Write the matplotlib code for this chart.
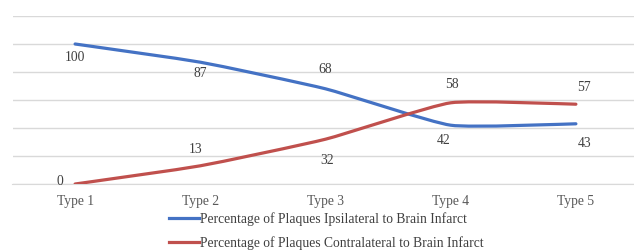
import matplotlib
matplotlib.use("Agg")
import matplotlib.pyplot as plt
from matplotlib.path import Path
from matplotlib.patches import PathPatch
from matplotlib.lines import Line2D
import numpy as np

categories = ["Type 1", "Type 2", "Type 3", "Type 4", "Type 5"]
ipsilateral = [100, 87, 68, 42, 43]
contralateral = [0, 13, 32, 58, 57]
series_names = ["Percentage of Plaques Ipsilateral to Brain Infarct",
                "Percentage of Plaques Contralateral to Brain Infarct"]
colors = ["#4472C4", "#C0504D"]

# label offsets in points (dx, dy)
ipsi_offsets = [(0, -10), (0, -8), (0, 14), (-5, -11), (6, -14)]
contra_offsets = [(-11, 2), (-3, 12), (1, -15), (1, 13), (6, 12)]

plt.rcParams['font.family'] = ['Liberation Serif', 'DejaVu Serif']
fig = plt.figure(figsize=(6.34, 2.5), dpi=100)
ax = fig.add_axes([12.5 / 634, (250 - 184) / 250, 626 / 634, (184 - 16) / 250])

x = np.arange(len(categories))


def smooth_path(xs, ys, t=0.08):
    verts = [(xs[0], ys[0])]
    codes = [Path.MOVETO]
    n = len(xs)
    for i in range(n - 1):
        x0, y0 = (xs[i - 1], ys[i - 1]) if i > 0 else (xs[i], ys[i])
        x1, y1 = xs[i], ys[i]
        x2, y2 = xs[i + 1], ys[i + 1]
        x3, y3 = (xs[i + 2], ys[i + 2]) if i + 2 < n else (xs[i + 1], ys[i + 1])
        c1 = (x1 + (x2 - x0) * t, y1 + (y2 - y0) * t)
        c2 = (x2 - (x3 - x1) * t, y2 - (y3 - y1) * t)
        verts += [c1, c2, (x2, y2)]
        codes += [Path.CURVE4] * 3
    return Path(verts, codes)


for ys, col, offs in [(ipsilateral, colors[0], ipsi_offsets),
                      (contralateral, colors[1], contra_offsets)]:
    p = smooth_path(list(x), list(ys))
    ax.add_patch(PathPatch(p, facecolor='none', edgecolor=col, lw=2.3,
                           capstyle='round', zorder=3))
    for xi, yi, (dx, dy) in zip(x, ys, offs):
        ax.annotate(str(yi), (xi, yi), xytext=(dx, dy), textcoords='offset points',
                    ha='center', va='center', fontsize=9.8, color='#404040')

ax.set_xlim(-0.5, 4.5)
ax.set_ylim(0, 120)
ax.set_yticks(np.arange(0, 121, 20))
ax.set_yticklabels([])
ax.tick_params(axis='y', length=0)
ax.yaxis.grid(True, color='#d9d9d9', lw=1)
ax.set_axisbelow(True)
ax.set_xticks(x)
ax.set_xticklabels(categories, fontsize=9.8, color='#595959')
ax.tick_params(axis='x', length=0, pad=8)
for s in ['top', 'right', 'left']:
    ax.spines[s].set_visible(False)
ax.spines['bottom'].set_color('#d9d9d9')
ax.set_facecolor('white')

handles = [Line2D([], [], color=c, lw=2.3) for c in colors]
fig.legend(handles, series_names, loc='upper center', bbox_to_anchor=(0.515, 0.178),
           ncol=1, frameon=False, fontsize=9.8, labelcolor='#404040',
           handlelength=2.2, handletextpad=0.1, labelspacing=0.75, borderpad=0)

fig.savefig("out.png", dpi=100)
